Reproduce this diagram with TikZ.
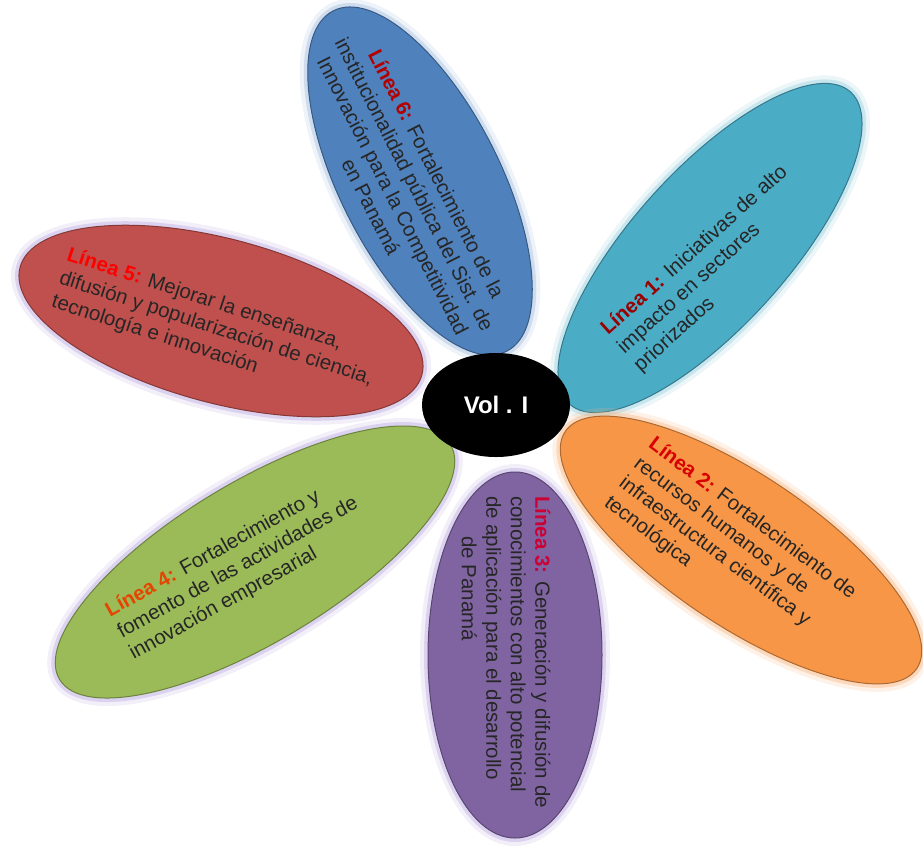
\documentclass[tikz,border=0pt]{standalone}
\usepackage{fontspec}
\setmainfont{Liberation Sans}
\usetikzlibrary{shapes.geometric}

\definecolor{aqua}{HTML}{4BACC6}
\definecolor{naranja}{HTML}{F79646}
\definecolor{morado}{HTML}{8064A2}
\definecolor{verde}{HTML}{9BBB59}
\definecolor{rojo}{HTML}{C0504D}
\definecolor{azul}{HTML}{4F81BD}
\definecolor{lavanda}{HTML}{B7A6E0}

\newcommand{\lineatag}[2]{\textcolor{#1}{\textbf{Línea #2:}}}

\tikzset{
  petal/.style 2 args={ellipse, inner sep=0pt, fill=#1, draw=#1!70!black, line width=1pt,
    preaction={draw=#2, line width=16pt, opacity=.18},
    preaction={draw=#2, line width=8pt, opacity=.4}},
  texto/.style={align=left, inner sep=0pt, text=black!85,
    font=\fontsize{20.5}{24.5}\selectfont},
}

\begin{document}
\begin{tikzpicture}[x=1pt,y=-1pt]
  \useasboundingbox (0,0) rectangle (923,847);

  \begin{scope}
    \node[petal={aqua}{aqua!60}, minimum width=420pt, minimum height=156pt, rotate=48] (l1) at (710,248) {};
    \node[petal={naranja}{naranja!70}, minimum width=424pt, minimum height=150pt, rotate=-34] (l2) at (741,550) {};
    \node[petal={morado}{lavanda}, minimum width=366pt, minimum height=174pt, rotate=90] (l3) at (515,655) {};
    \node[petal={verde}{lavanda}, minimum width=456pt, minimum height=160pt, rotate=31] (l4) at (255,562) {};
    \node[petal={rojo}{lavanda}, minimum width=416pt, minimum height=164pt, rotate=-15] (l5) at (221,321) {};
    \node[petal={azul}{azul!55}, minimum width=382pt, minimum height=160pt, rotate=-63] (l6) at (420,181) {};
  \end{scope}

  \begin{scope}[every node/.style={texto}]
    \node[rotate=42] (t1) at (711,269)
      {\lineatag{red!60!black}{1} Iniciativas de alto\\impacto en sectores\\priorizados};
    \node[rotate=-37] (t2) at (730,548)
      {\lineatag{red!85!black}{2} Fortalecimiento de\\recursos humanos y de\\infraestructura científica y\\tecnológica};
    \node[rotate=-90] (t3) at (506,652)
      {\lineatag{purple!80!red}{3} Generación y difusión de\\conocimientos con alto potencial\\de aplicación para el desarrollo\\\hspace*{40pt}de Panamá};
    \node[rotate=29] (t4) at (238,568)
      {\lineatag{orange!60!red!90!black}{4} Fortalecimiento y\\fomento de las actividades de\\innovación empresarial};
    \node[rotate=-18] (t5) at (216,329)
      {\lineatag{red}{5} Mejorar la enseñanza,\\difusión y popularización de ciencia,\\tecnología e innovación};
    \node[rotate=-63, align=center] (t6) at (404,190)
      {\lineatag{red!70!black}{6} Fortalecimiento de la\\institucionalidad pública del Sist. de\\Innovación para la Competitividad\\en Panamá};
  \end{scope}

  \node[ellipse, fill=black, inner sep=0pt, minimum width=148pt, minimum height=104pt,
    text=white, font=\bfseries\fontsize{24}{28}\selectfont] (vol) at (496,405) {Vol . I};

\end{tikzpicture}
\end{document}
